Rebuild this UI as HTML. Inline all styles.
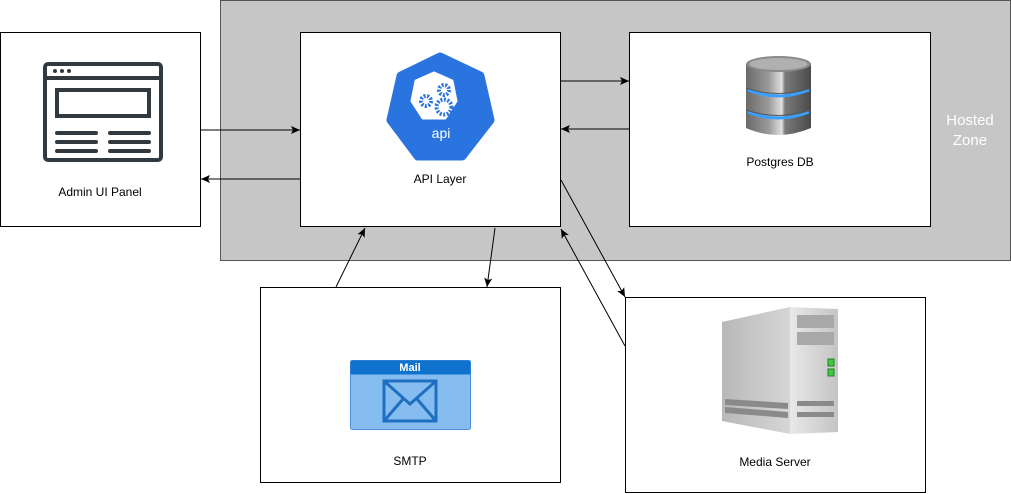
<!DOCTYPE html>
<html><head><meta charset="utf-8"><style>
body{margin:0;background:#fff;}
svg{display:block;font-family:"Liberation Sans",Arial,sans-serif;}
</style></head><body>
<svg width="1011" height="494" viewBox="0 0 1011 494" xmlns="http://www.w3.org/2000/svg">
<defs>
<marker id="a" markerWidth="10" markerHeight="10" refX="9" refY="5" orient="auto" markerUnits="userSpaceOnUse">
<path d="M0,1 L9,5 L0,9 L2,5 Z" fill="#000"/></marker>
<linearGradient id="srvL" x1="0" x2="1"><stop offset="0" stop-color="#b8b8b8"/><stop offset="1" stop-color="#d6d6d6"/></linearGradient>
<linearGradient id="srvR" x1="0" x2="1"><stop offset="0" stop-color="#e8e8e8"/><stop offset="1" stop-color="#c4c4c4"/></linearGradient>
<linearGradient id="db" x1="0" x2="1"><stop offset="0" stop-color="#6a6a6a"/><stop offset="0.35" stop-color="#9a9a9a"/><stop offset="0.55" stop-color="#e0e0e0"/><stop offset="0.6" stop-color="#7a7a7a"/><stop offset="1" stop-color="#4a4a4a"/></linearGradient>
</defs>
<rect x="220.5" y="0.5" width="790" height="260" fill="#c6c6c6" stroke="#555" stroke-width="1"/>
<text x="970" y="125" fill="#fff" font-size="15" text-anchor="middle">Hosted</text>
<text x="970" y="145" fill="#fff" font-size="15" text-anchor="middle">Zone</text>

<g fill="#fff" stroke="#000" stroke-width="1">
<rect x="0.5" y="32.5" width="200" height="194"/>
<rect x="300.5" y="32.5" width="260" height="194"/>
<rect x="629.5" y="32.5" width="301" height="194"/>
<rect x="260.5" y="287.5" width="300" height="195"/>
<rect x="625.5" y="297.5" width="300" height="195"/>
</g>

<g stroke="#000" stroke-width="1" fill="none">
<line x1="201" y1="130" x2="300" y2="130" marker-end="url(#a)"/>
<line x1="300" y1="179" x2="201" y2="179" marker-end="url(#a)"/>
<line x1="561" y1="81" x2="629" y2="81" marker-end="url(#a)"/>
<line x1="629" y1="129" x2="561" y2="129" marker-end="url(#a)"/>
<line x1="336" y1="287" x2="365" y2="228" marker-end="url(#a)"/>
<line x1="495" y1="228" x2="487" y2="287" marker-end="url(#a)"/>
<line x1="561" y1="180" x2="625" y2="297" marker-end="url(#a)"/>
<line x1="625" y1="346" x2="561" y2="229" marker-end="url(#a)"/>
</g>

<!-- admin icon -->
<g stroke="#333a3f" stroke-width="4" fill="none" stroke-linecap="round">
<rect x="45" y="64" width="116" height="96" rx="3"/>
<line x1="45" y1="78" x2="161" y2="78"/>
<rect x="57" y="90" width="92" height="26"/>
<line x1="57" y1="133" x2="96" y2="133"/><line x1="110" y1="133" x2="149" y2="133"/>
<line x1="57" y1="142" x2="96" y2="142"/><line x1="110" y1="142" x2="149" y2="142"/>
<line x1="57" y1="151" x2="96" y2="151"/><line x1="110" y1="151" x2="149" y2="151"/>
</g>
<g fill="#333a3f"><circle cx="55" cy="71" r="2"/><circle cx="62" cy="71" r="2"/><circle cx="69" cy="71" r="2"/></g>
<text x="100" y="196" font-size="12" text-anchor="middle">Admin UI Panel</text>

<!-- api icon -->
<polygon points="440,57 480,76 490,120 462,156 418,156 391,120 401,76" fill="#2a74e0" stroke="#2a74e0" stroke-width="9" stroke-linejoin="round"/>
<polygon points="434,73 452,81 456,101 445,118 423,118 412,101 416,81" fill="#fff" stroke="#fff" stroke-width="3" stroke-linejoin="round"/>
<g fill="none" stroke="#2a74e0" stroke-dasharray="2 1.5">
<circle cx="444" cy="90" r="5" stroke-width="4"/>
<circle cx="426" cy="101" r="5" stroke-width="4"/>
<circle cx="444" cy="107" r="7.5" stroke-width="4"/>
</g>
<text x="441" y="138" font-size="14" fill="#fff" text-anchor="middle">api</text>
<text x="440" y="183" font-size="12" text-anchor="middle">API Layer</text>

<!-- db icon -->
<path d="M746,64 L746,128 Q778,142 811,128 L811,64 Z" fill="url(#db)"/>
<ellipse cx="778.5" cy="64" rx="32.5" ry="8" fill="#8a8a8a"/>
<ellipse cx="778.5" cy="64" rx="29" ry="6" fill="#b0b0b0"/>
<path d="M748,90 Q778,102 809,90" stroke="#3aa0ff" stroke-width="3" fill="none"/>
<path d="M748,112 Q778,124 809,112" stroke="#3aa0ff" stroke-width="3" fill="none"/>
<path d="M746,88 Q778,99 811,88" stroke="#555" stroke-width="1" fill="none"/>
<path d="M746,110 Q778,121 811,110" stroke="#555" stroke-width="1" fill="none"/>
<text x="780" y="166" font-size="12" text-anchor="middle">Postgres DB</text>

<!-- mail icon -->
<rect x="350.5" y="360.5" width="120" height="69" rx="2" fill="#86bdf0" stroke="#4b8fd6"/>
<rect x="350.5" y="360.5" width="120" height="14" fill="#0f72cc"/>
<text x="410" y="371" font-size="11" font-weight="bold" fill="#fff" text-anchor="middle">Mail</text>
<rect x="384" y="381" width="52" height="40" fill="none" stroke="#1f6fc0" stroke-width="3"/>
<path d="M384,381 L410,404 L436,381 M384,421 L403,399 M436,421 L417,399" fill="none" stroke="#1f6fc0" stroke-width="3"/>
<text x="410" y="465" font-size="12" text-anchor="middle">SMTP</text>

<!-- server icon -->
<polygon points="722,322 790,307 790,434 722,421" fill="url(#srvL)"/>
<polygon points="790,307 838,309 838,432 790,434" fill="url(#srvR)"/>
<rect x="797" y="315" width="37" height="13" fill="#a8a8a8"/>
<rect x="797" y="332" width="37" height="13" fill="#a8a8a8"/>
<rect x="828" y="359" width="6" height="7" fill="#40c840" stroke="#208020"/>
<rect x="828" y="369" width="6" height="7" fill="#40c840" stroke="#208020"/>
<polygon points="725,399 788,403 788,409 725,405" fill="#8a8a8a"/>
<polygon points="725,407 788,412 788,418 725,413" fill="#8a8a8a"/>
<rect x="797" y="401" width="37" height="5" fill="#8a8a8a"/>
<rect x="797" y="412" width="37" height="5" fill="#8a8a8a"/>
<text x="775" y="466" font-size="12" text-anchor="middle">Media Server</text>
</svg>
</body></html>
